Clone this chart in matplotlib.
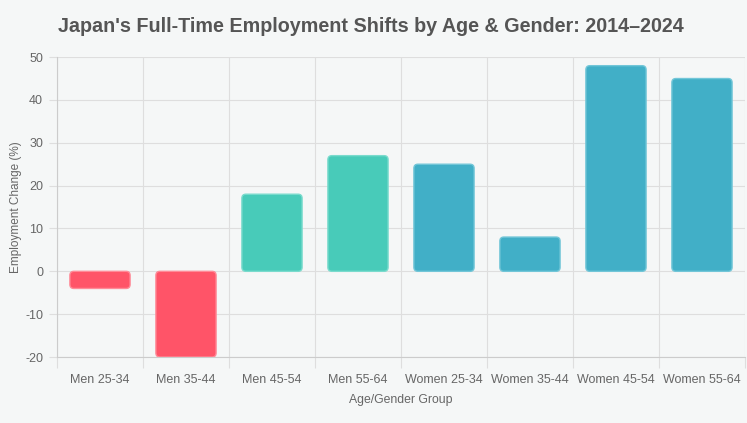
import numpy as np
import matplotlib.pyplot as plt
from matplotlib.patches import FancyBboxPatch

# data
groups = ['Men 25-34', 'Men 35-44', 'Men 45-54', 'Men 55-64',
          'Women 25-34', 'Women 35-44', 'Women 45-54', 'Women 55-64']
change = [-4, -20, 18, 27, 25, 8, 48, 45]
colors = ['#ff5468', '#ff5468', '#48cbb9', '#48cbb9',
          '#41afc7', '#41afc7', '#41afc7', '#41afc7']
edges = ['#ff8a97', '#ff8a97', '#7adbcd', '#7adbcd',
         '#72c6d8', '#72c6d8', '#72c6d8', '#72c6d8']

bg = '#f5f7f7'
grid_c = '#dedede'
text_c = '#666666'

plt.rcParams['font.family'] = ['Liberation Sans', 'DejaVu Sans']
plt.rcParams['axes.unicode_minus'] = False

fig = plt.figure(figsize=(7.47, 4.23), dpi=100, facecolor=bg)
ax = fig.add_axes([0.0763, 0.156, 0.921, 0.709])
ax.set_facecolor(bg)

x = np.arange(len(groups))
bars = ax.bar(x, change, width=0.7, color=colors)

ax.set_xlim(-0.5, len(groups) - 0.5)
ax.set_ylim(-20, 50)

# swap plain bars for rounded ones
px_x = 0.921 * 747 / len(groups)
px_y = 0.709 * 423 / 70
aspect = px_x / px_y
for b, fc, ec in zip(bars, colors, edges):
    bx, by = b.get_x(), b.get_y()
    w, h = b.get_width(), b.get_height()
    r = 4 / px_x
    y0 = min(by, by + h)
    p = FancyBboxPatch((bx + r, y0 + r * aspect),
                       w - 2 * r, abs(h) - 2 * r * aspect,
                       boxstyle=f'round,pad={r},rounding_size={r}',
                       mutation_aspect=aspect, fc=fc, ec=ec, lw=1, zorder=3)
    b.remove()
    ax.add_patch(p)

ax.set_yticks(range(-20, 51, 10))
ax.set_xticks(x)
ax.set_xticklabels(groups)
ax.set_xticks(np.arange(-0.5, len(groups), 1), minor=True)
ax.grid(True, axis='y', which='major', color=grid_c, lw=0.8, zorder=0)
ax.grid(True, axis='x', which='minor', color=grid_c, lw=0.8, zorder=0)
ax.tick_params(axis='x', which='major', length=0, pad=12, labelsize=9, labelcolor=text_c)
ax.tick_params(axis='x', which='minor', length=8, color=grid_c, width=0.8)
ax.tick_params(axis='y', length=6, color=grid_c, width=0.8, labelsize=9, labelcolor=text_c, pad=4)

for s in ['top', 'right']:
    ax.spines[s].set_visible(False)
for s in ['left', 'bottom']:
    ax.spines[s].set_color('#cccccc')
    ax.spines[s].set_linewidth(0.8)

ax.set_ylabel('Employment Change (%)', fontsize=8.5, color=text_c, labelpad=2)
ax.set_xlabel('Age/Gender Group', fontsize=8.8, color=text_c, labelpad=6)

fig.text(0.497, 0.938, "Japan's Full-Time Employment Shifts by Age & Gender: 2014\u20132024",
         ha='center', va='center', fontsize=14.2, fontweight='bold', color='#555555')

fig.savefig('out.png', dpi=100, facecolor=bg)
